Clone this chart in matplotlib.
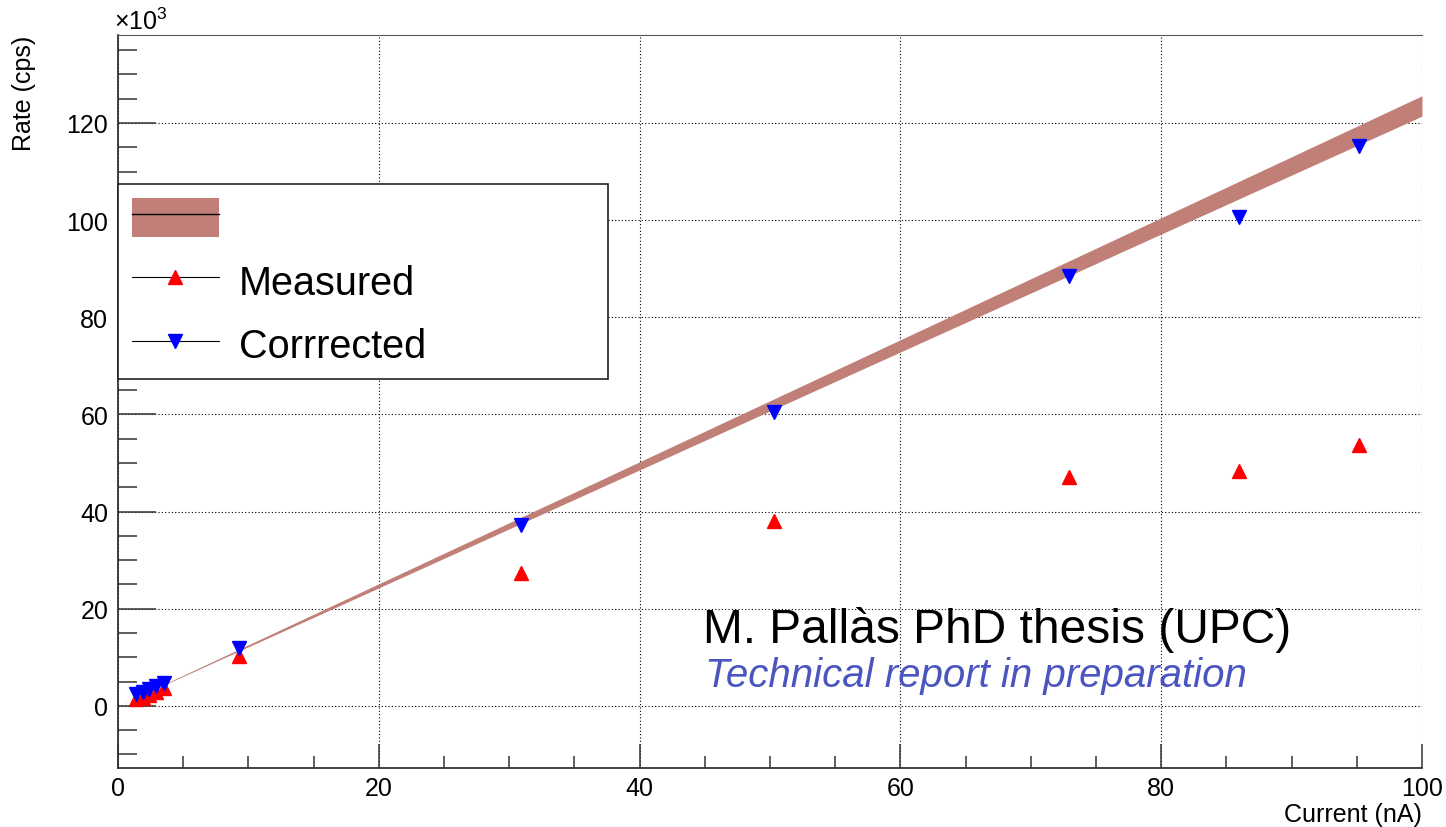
import matplotlib
matplotlib.use('Agg')
import matplotlib.pyplot as plt
import numpy as np
from matplotlib.patches import Patch
from matplotlib.lines import Line2D
from matplotlib.ticker import MultipleLocator

plt.rcParams['font.family'] = ['Liberation Sans', 'DejaVu Sans']
plt.rcParams['mathtext.fontset'] = 'custom'
plt.rcParams['mathtext.rm'] = 'Liberation Sans'

# beam current (nA) and rates (x10^3 cps)
current = [1.4, 1.9, 2.4, 2.9, 3.5, 9.3, 30.9, 50.3, 72.9, 86.0, 95.2]
measured = [1.3, 1.7, 2.3, 2.8, 3.6, 10.2, 27.3, 38.0, 47.2, 48.4, 53.6]
corrected = [2.4, 2.8, 3.4, 4.0, 4.6, 12.0, 37.2, 60.4, 88.4, 100.6, 115.2]

# linear fit through origin and its uncertainty band
fit_slope = 1.235
fit_slope_err = 0.021
fit_range = [0, 100]

BAND_COLOR = '#c08078'
TEXT_BLUE = '#4b55c0'

fig = plt.figure(figsize=(14.46, 8.28), dpi=100)
ax = fig.add_axes([0.0816, 0.0713, 0.9018, 0.8852])

xf = np.linspace(fit_range[0], fit_range[1], 200)
ax.fill_between(xf, (fit_slope - fit_slope_err) * xf,
                (fit_slope + fit_slope_err) * xf,
                color=BAND_COLOR, lw=0, zorder=2)

ax.plot(current, measured, ls='none', marker='^', ms=10,
        color='red', mec='red', zorder=3)
ax.plot(current, corrected, ls='none', marker='v', ms=10,
        color='blue', mec='blue', zorder=4)

ax.set_xlim(0, 100)
ax.set_ylim(-12.8, 138.1)

ax.xaxis.set_major_locator(MultipleLocator(20))
ax.xaxis.set_minor_locator(MultipleLocator(5))
ax.yaxis.set_major_locator(MultipleLocator(20))
ax.yaxis.set_minor_locator(MultipleLocator(5))

ax.tick_params(axis='both', which='both', direction='in', colors='#333333',
               labelcolor='black', labelsize=18, top=False, right=False)
ax.tick_params(axis='y', which='major', length=27, width=1.1, pad=7)
ax.tick_params(axis='y', which='minor', length=13.5, width=1.1)
ax.tick_params(axis='x', which='major', length=17, width=1.1, pad=6)
ax.tick_params(axis='x', which='minor', length=8.5, width=1.1)

ax.grid(True, which='major', ls=(0, (1, 2)), color='black', lw=0.8)
ax.set_axisbelow(True)

for side in ['left', 'bottom']:
    ax.spines[side].set_color('#333333')
    ax.spines[side].set_linewidth(1.3)
ax.spines['top'].set_color('#555555')
ax.spines['top'].set_linewidth(0.8)
ax.spines['right'].set_visible(False)

ax.set_xlabel('Current (nA)', fontsize=18, loc='right')
ax.xaxis.set_label_coords(1.0, -0.046)
ax.set_ylabel('Rate (cps)', fontsize=18, loc='top')
ax.yaxis.set_label_coords(-0.063, 1.0)

ax.text(-0.003, 1.002, r'$\times$10$^{3}$', transform=ax.transAxes,
        fontsize=18, ha='left', va='bottom')

band_handle = (Patch(facecolor=BAND_COLOR, edgecolor='none'),
               Line2D([], [], color='black', lw=1))
meas_handle = Line2D([], [], color='black', lw=0.8, marker='^', ms=10,
                     mfc='red', mec='red')
corr_handle = Line2D([], [], color='black', lw=0.8, marker='v', ms=10,
                     mfc='blue', mec='blue')
leg = ax.legend([band_handle, meas_handle, corr_handle],
                ['', 'Measured', 'Corrrected'],
                loc='upper left', bbox_to_anchor=(0.0, 0.797, 0.376, 0.0),
                mode='expand', fontsize=28.5, fancybox=False, framealpha=1,
                edgecolor='#222222', borderpad=0.35, labelspacing=0.56,
                handlelength=2.2, handleheight=1.15, handletextpad=0.5,
                borderaxespad=0.0)
leg.get_frame().set_linewidth(1.2)

ax.text(44.9, 13.2, 'M. Pallàs PhD thesis (UPC)', fontsize=34.5,
        color='black', ha='left', va='baseline', zorder=5)
ax.text(45.0, 4.1, 'Technical report in preparation', fontsize=29,
        color=TEXT_BLUE, style='italic', ha='left', va='baseline', zorder=5)

fig.savefig('out.png', dpi=100)
